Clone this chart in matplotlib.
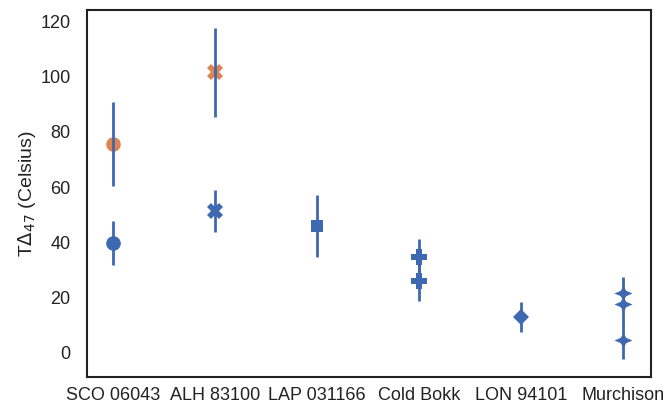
import matplotlib
matplotlib.use("Agg")
import matplotlib.pyplot as plt
import numpy as np

plt.rcParams['font.family'] = ['Liberation Sans', 'DejaVu Sans']

categories = ["SCO 06043", "ALH 83100", "LAP 031166", "Cold Bokk", "LON 94101", "Murchison"]

# blue series: (category index, value, error, marker)
blue_cat = [0, 1, 2, 3, 3, 4, 5, 5, 5]
blue_val = [39.8, 51.3, 45.9, 34.7, 26.0, 13.0, 21.7, 17.7, 4.7]
blue_err = [8.0, 7.7, 11.2, 6.5, 7.2, 5.4, 5.8, 6.5, 7.0]
blue_mk = ["o", "X", "s", "P", "P", "D", "star4", "star4", "star4"]

orange_cat = [0, 1]
orange_val = [75.5, 101.6]
orange_err = [15.2, 16.1]
orange_mk = ["o", "X"]

blue = "#3E68B0"
orange = "#DD8452"

star4 = [(1.0, 0.0), (0.3, 0.3), (0.0, 0.85), (-0.3, 0.3), (-1.0, 0.0),
         (-0.3, -0.3), (0.0, -0.85), (0.3, -0.3), (1.0, 0.0)]
marker_shape = {"o": "o", "X": "X", "s": "s", "P": "P", "D": "D", "star4": star4}
marker_size = {"o": 10.5, "X": 11, "s": 8.5, "P": 11, "D": 8, "star4": 13}

fig, ax = plt.subplots(figsize=(6.67, 4.08), dpi=100)
fig.subplots_adjust(left=0.131, right=0.976, top=0.975, bottom=0.076)


def draw(cats, vals, errs, mks, color):
    for c, v, e, m in zip(cats, vals, errs, mks):
        ax.plot(c, v, marker=marker_shape[m], color=color, markersize=marker_size[m],
                markeredgewidth=0, linestyle="none", zorder=2)
        ax.errorbar(c, v, yerr=e, fmt="none", ecolor=blue, elinewidth=2.0, zorder=3)


draw(orange_cat, orange_val, orange_err, orange_mk, orange)
draw(blue_cat, blue_val, blue_err, blue_mk, blue)

ax.set_xticks(range(len(categories)))
ax.set_xticklabels(categories, fontsize=13, color="#222222")
ax.set_yticks([0, 20, 40, 60, 80, 100, 120])
ax.tick_params(axis="both", length=0, labelsize=13, labelcolor="#222222")
ax.tick_params(axis="x", pad=7)
ax.tick_params(axis="y", pad=12)
ax.set_xlim(-0.25, 5.27)
ax.set_ylim(-8.7, 124)
ax.set_ylabel(r"T$\Delta_{47}$ (Celsius)", fontsize=14, color="#222222", labelpad=2)

for s in ax.spines.values():
    s.set_linewidth(1.5)
    s.set_color("#222222")

fig.savefig("out.png", dpi=100)
